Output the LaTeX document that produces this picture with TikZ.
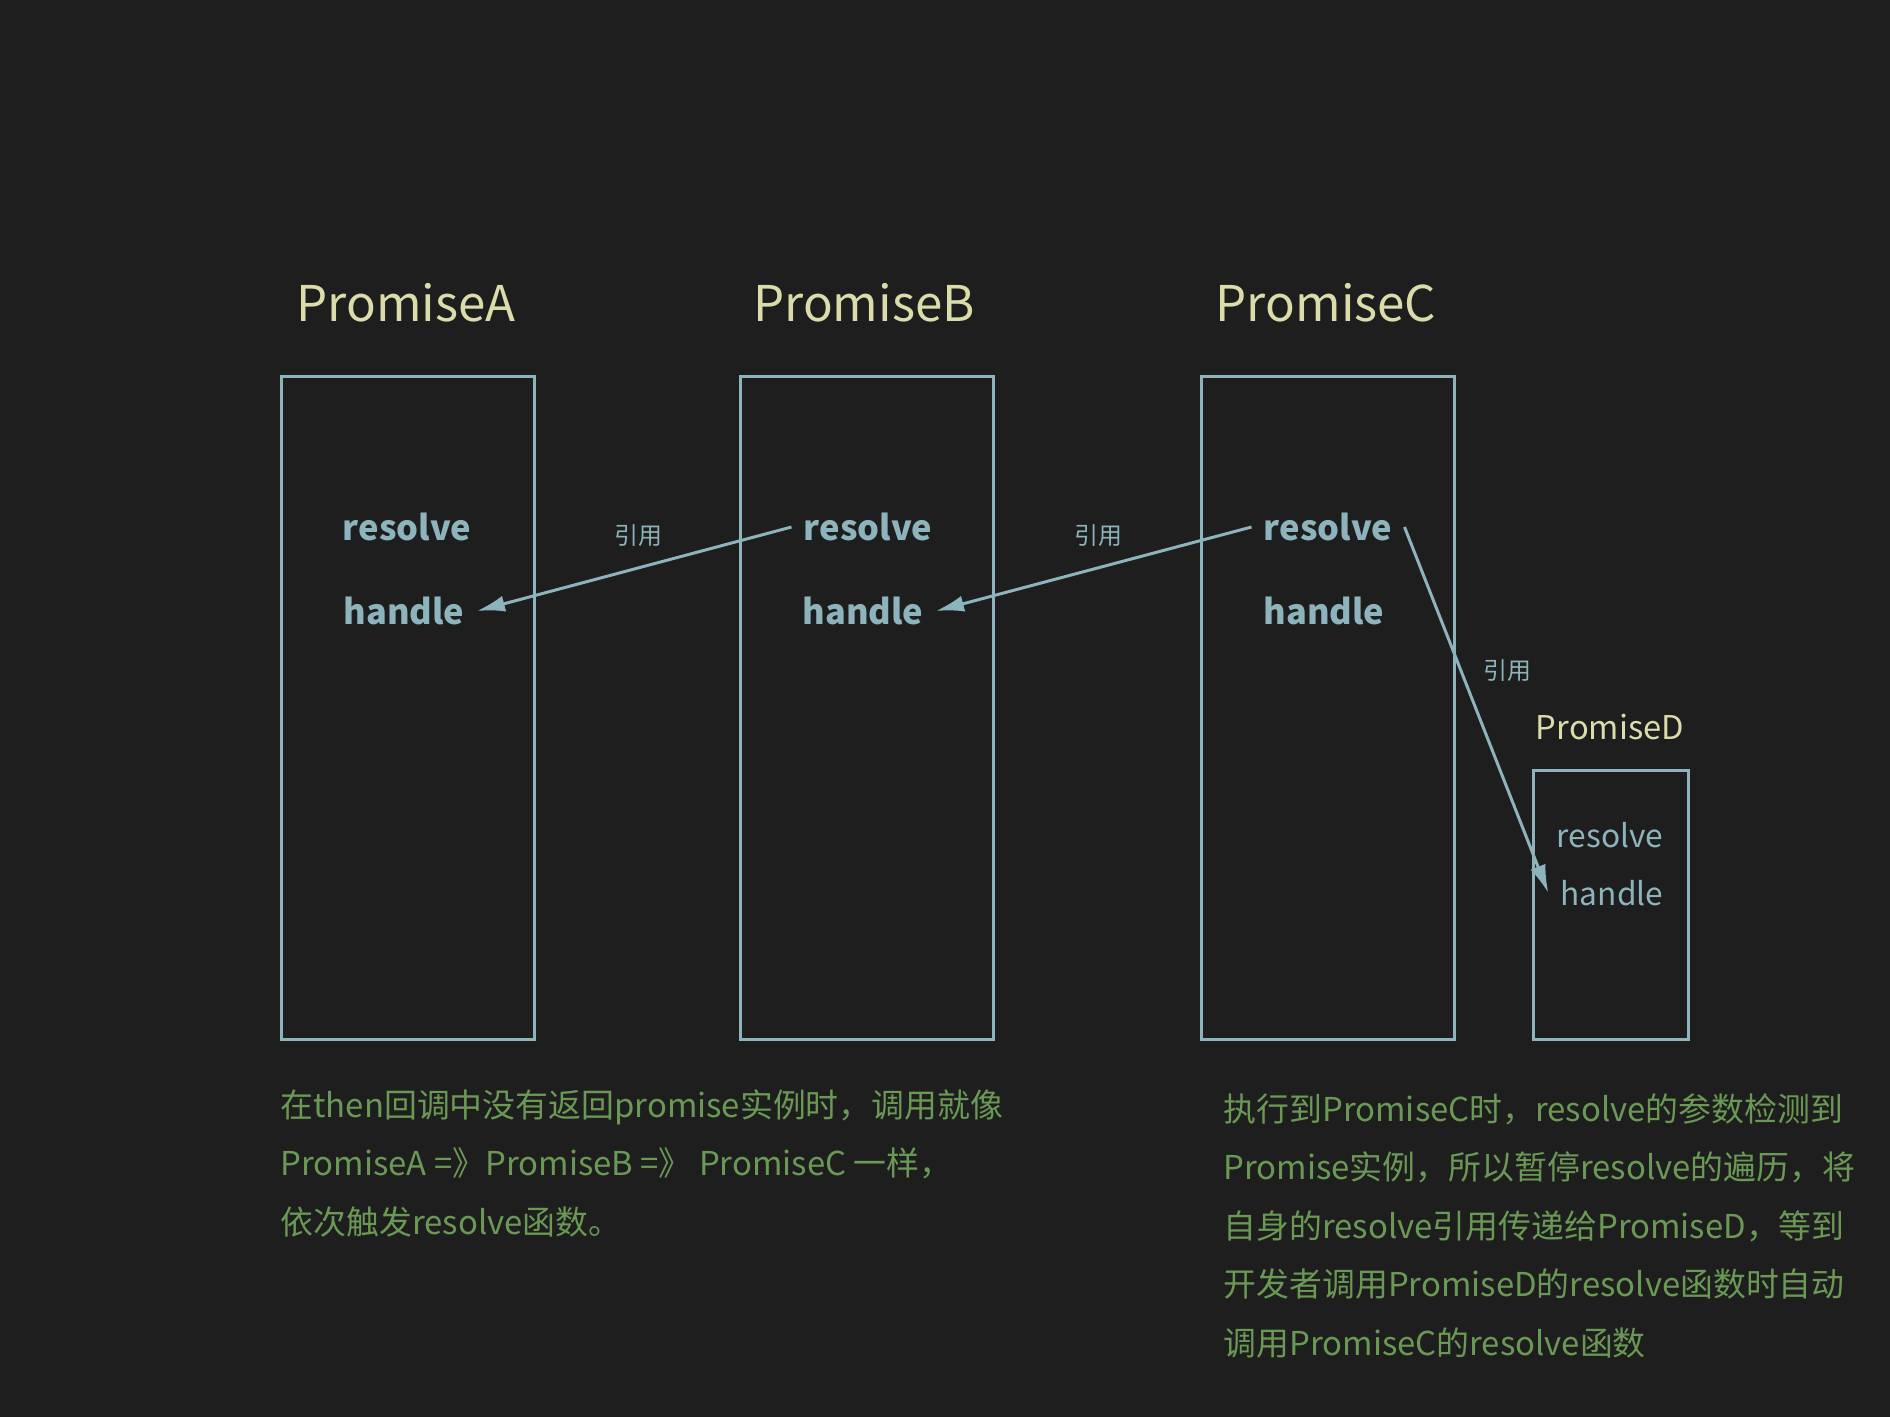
\documentclass[tikz,border=0pt]{standalone}
\usepackage{fontspec}
\setmainfont{Noto Sans CJK SC}
\usetikzlibrary{arrows.meta}
\definecolor{bgdark}{HTML}{1E1E1E}
\definecolor{boxblue}{HTML}{8DB3BC}
\definecolor{titleyellow}{HTML}{DCDCAA}
\definecolor{notegreen}{HTML}{6A9955}

\begin{document}
\begin{tikzpicture}[x=0.01cm, y=-0.01cm,
    every node/.style={font=\fontsize{9.5}{12}\selectfont},
    promise/.style={draw=boxblue, line width=0.85pt, minimum width=2.52cm, minimum height=6.62cm, inner sep=0pt},
    title/.style={text=titleyellow, font=\fontsize{14}{17}\selectfont},
    field/.style={text=boxblue, font=\bfseries\fontsize{9.8}{12}\selectfont},
    ref/.style={text=boxblue, font=\fontsize{6.8}{8}\selectfont},
    note/.style={text=notegreen, align=left, anchor=north west, inner sep=0pt, font=\fontsize{9.35}{16.6}\selectfont},
    link/.style={draw=boxblue, line width=0.85pt, -{Latex[length=8pt,width=4.6pt]}}]
    % background
    \fill[bgdark] (0,0) rectangle (1890,1417);

    % promise boxes
    \node[promise] (boxA) at (408,708) {};
    \node[promise] (boxB) at (867,708) {};
    \node[promise] (boxC) at (1328,708) {};
    \node[promise, minimum width=1.54cm, minimum height=2.68cm] (boxD) at (1611,905) {};

    % titles
    \node[title] (titleA) at (406,303) {PromiseA};
    \node[title] (titleB) at (864,303) {PromiseB};
    \node[title] (titleC) at (1326,303) {PromiseC};
    \node[title, font=\fontsize{9.3}{11}\selectfont] (titleD) at (1610,727) {PromiseD};

    % resolve / handle
    \node[field] (resA) at (407,527) {resolve};
    \node[field] (hdlA) at (404,611) {handle};
    \node[field] (resB) at (868,527) {resolve};
    \node[field] (hdlB) at (863,611) {handle};
    \node[field] (resC) at (1328,527) {resolve};
    \node[field] (hdlC) at (1324,611) {handle};
    \node[field, font=\fontsize{9}{11}\selectfont] (resD) at (1610,835) {resolve};
    \node[field, font=\fontsize{9}{11}\selectfont] (hdlD) at (1612,893) {handle};

    % references
    \draw[link] (resB.west) -- (hdlA.east);
    \draw[link] (resC.west) -- (hdlB.east);
    \draw[link] (resC.east) -- (hdlD.west);
    \node[ref] (refAB) at (638,536) {引用};
    \node[ref] (refBC) at (1098,536) {引用};
    \node[ref] (refCD) at (1507,671) {引用};

    % notes
    \node[note] (noteL) at (280,1089) {在then回调中没有返回promise实例时，调用就像\\PromiseA =》PromiseB =》 PromiseC 一样，\\依次触发resolve函数。};
    \node[note] (noteR) at (1223,1093) {执行到PromiseC时，resolve的参数检测到\\Promise实例，所以暂停resolve的遍历，将\\自身的resolve引用传递给PromiseD，等到\\开发者调用PromiseD的resolve函数时自动\\调用PromiseC的resolve函数};
\end{tikzpicture}
\end{document}
